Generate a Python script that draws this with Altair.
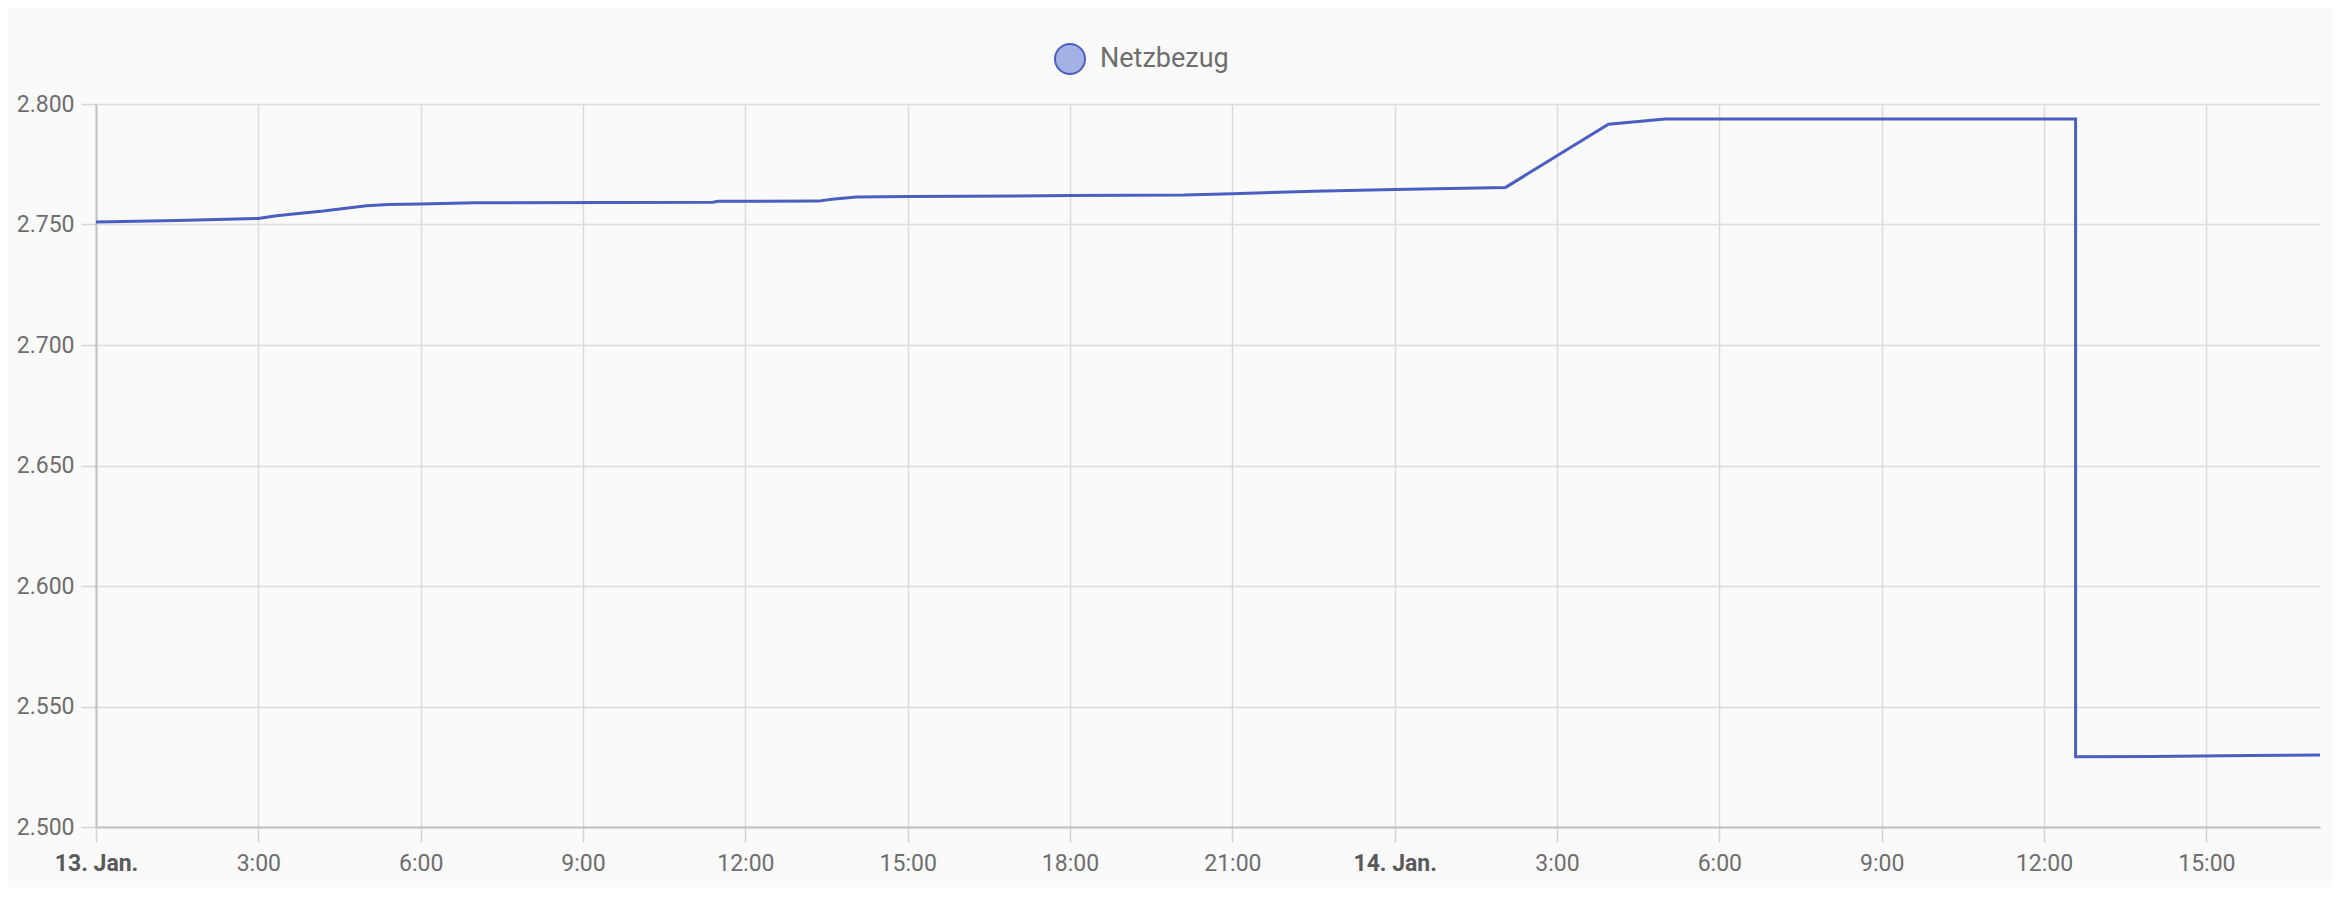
import altair as alt
import pandas as pd

# --- data ---
times = [
    "2024-01-13T00:00", "2024-01-13T01:30", "2024-01-13T03:00", "2024-01-13T03:18",
    "2024-01-13T03:36", "2024-01-13T04:12", "2024-01-13T05:00", "2024-01-13T05:24",
    "2024-01-13T06:00", "2024-01-13T07:00", "2024-01-13T11:24", "2024-01-13T11:30",
    "2024-01-13T13:21", "2024-01-13T13:36", "2024-01-13T14:03", "2024-01-13T15:00",
    "2024-01-13T18:00", "2024-01-13T20:06", "2024-01-13T21:00", "2024-01-13T22:30",
    "2024-01-14T00:00", "2024-01-14T02:03", "2024-01-14T03:57", "2024-01-14T05:00",
    "2024-01-14T12:35", "2024-01-14T12:35", "2024-01-14T14:00", "2024-01-14T15:48",
    "2024-01-14T17:06",
]
values = [
    2751.0, 2751.7, 2752.5, 2753.5,
    2754.3, 2755.6, 2757.8, 2758.3,
    2758.5, 2759.0, 2759.2, 2759.6,
    2759.7, 2760.5, 2761.4, 2761.6,
    2762.0, 2762.2, 2762.8, 2763.8,
    2764.5, 2765.4, 2791.6, 2793.8,
    2793.8, 2529.2, 2529.3, 2529.7,
    2529.9,
]
series_name = "Netzbezug"
y_ticks = [2500, 2550, 2600, 2650, 2700, 2750, 2800]
x_tick_hours = [(13, h) for h in range(0, 24, 3)] + [(14, h) for h in range(0, 18, 3)]

df = pd.DataFrame({
    "t": times,
    "v": values,
    "s": [series_name] * len(times),
    "i": list(range(len(times))),
})

LINE = "#4a5fc1"
GRID = "#dcdcdc"
TEXT = "#6e6e6e"

x_vals = [alt.DateTime(year=2024, month=1, date=d, hours=h) for d, h in x_tick_hours]

chart = alt.Chart(df).mark_line(strokeWidth=3, color=LINE).encode(
    x=alt.X(
        "t:T",
        title=None,
        scale=alt.Scale(domain=[
            alt.DateTime(year=2024, month=1, date=13, hours=0),
            alt.DateTime(year=2024, month=1, date=14, hours=17, minutes=6),
        ]),
        axis=alt.Axis(
            values=x_vals,
            labelExpr="hours(datum.value) === 0 ? timeFormat(datum.value, '%-d. %b.') : timeFormat(datum.value, '%-H:%M')",
            labelFontWeight={"condition": {"test": "hours(datum.value) === 0", "value": "bold"}, "value": "normal"},
            labelColor={"condition": {"test": "hours(datum.value) === 0", "value": "#5a5a5a"}, "value": TEXT},
            labelFlush=False,
            labelOverlap=False,
            labelPadding=10,
            tickSize=15,
            grid=True,
        ),
    ),
    y=alt.Y(
        "v:Q",
        title=None,
        scale=alt.Scale(domain=[2500, 2800], nice=False, zero=False),
        axis=alt.Axis(
            values=y_ticks,
            labelExpr="replace(format(datum.value, ',.0f'), ',', '.')",
            tickSize=15,
            labelPadding=7,
            grid=True,
        ),
    ),
    color=alt.Color(
        "s:N",
        scale=alt.Scale(range=[LINE]),
        legend=alt.Legend(
            title=None,
            orient="none",
            legendX=958,
            legendY=-61,
            symbolType="circle",
            symbolSize=900,
            symbolFillColor="#a3b1e4",
            symbolStrokeColor=LINE,
            symbolStrokeWidth=2,
            symbolOpacity=1,
            labelFont="Roboto",
            labelFontSize=27,
            labelColor=TEXT,
            labelOffset=14,
            padding=0,
        ),
    ),
    order="i:Q",
).properties(
    width=2224,
    height=723,
    padding={"left": 88, "top": 96, "right": 12, "bottom": 60},
    autosize="none",
    background="#fafafa",
).configure_view(
    stroke=None,
).configure_axis(
    gridColor=GRID,
    gridWidth=1.5,
    domainColor="#c2c2c2",
    domainWidth=2,
    tickColor="#d4d4d4",
    tickWidth=1.5,
    labelFont="Roboto",
    labelFontSize=23,
    labelColor=TEXT,
)

chart.save("out.html", embed_options={"renderer": "svg", "actions": False})
